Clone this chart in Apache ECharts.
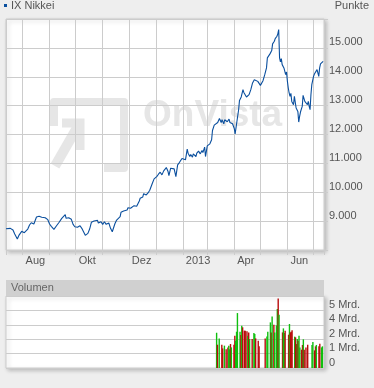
<!DOCTYPE html>
<html>
<head>
<meta charset="utf-8">
<script src="https://cdn.jsdelivr.net/npm/echarts@6.0.0/dist/echarts.min.js"></script>
<style>
  html, body { margin: 0; padding: 0; background: #eeeeee; }
  #chart { width: 374px; height: 388px; }
</style>
</head>
<body>
<div id="chart"></div>
<script>
// ---- Data ----
const nikkeiDates = [
 '2012-07-13','2012-07-18','2012-07-19','2012-07-21','2012-07-23','2012-07-25','2012-07-26','2012-07-28','2012-07-31',
 '2012-08-03','2012-08-04','2012-08-07','2012-08-09','2012-08-11','2012-08-14','2012-08-16','2012-08-17','2012-08-20','2012-08-23','2012-08-25','2012-08-27','2012-08-30',
 '2012-09-01','2012-09-03','2012-09-06','2012-09-09','2012-09-10','2012-09-12','2012-09-15','2012-09-17','2012-09-19','2012-09-20','2012-09-23','2012-09-26','2012-09-28','2012-09-30',
 '2012-10-03','2012-10-06','2012-10-08','2012-10-10','2012-10-12','2012-10-15','2012-10-17','2012-10-19','2012-10-22','2012-10-26','2012-10-27','2012-10-30',
 '2012-11-01','2012-11-03','2012-11-05','2012-11-08','2012-11-10','2012-11-12','2012-11-14','2012-11-15','2012-11-17','2012-11-21','2012-11-22','2012-11-25','2012-11-27','2012-11-29','2012-11-30',
 '2012-12-03','2012-12-05','2012-12-07','2012-12-10','2012-12-11','2012-12-13','2012-12-14','2012-12-17','2012-12-18','2012-12-20','2012-12-21','2012-12-23','2012-12-25','2012-12-26','2012-12-28','2012-12-30',
 '2013-01-02','2013-01-04','2013-01-06','2013-01-08','2013-01-10','2013-01-11','2013-01-13','2013-01-15','2013-01-16','2013-01-18','2013-01-20','2013-01-22','2013-01-24','2013-01-26','2013-01-28','2013-01-31',
 '2013-02-02','2013-02-04','2013-02-06','2013-02-07','2013-02-09','2013-02-10','2013-02-12','2013-02-13','2013-02-16','2013-02-17','2013-02-19','2013-02-21','2013-02-23','2013-02-24','2013-02-26','2013-02-27',
 '2013-03-01','2013-03-02','2013-03-04','2013-03-06','2013-03-07','2013-03-09','2013-03-11','2013-03-13','2013-03-14','2013-03-15','2013-03-17','2013-03-18','2013-03-20','2013-03-21','2013-03-23','2013-03-24','2013-03-26','2013-03-27','2013-03-29','2013-03-30',
 '2013-04-01','2013-04-02','2013-04-04','2013-04-06','2013-04-07','2013-04-09','2013-04-11','2013-04-12','2013-04-14','2013-04-15','2013-04-17','2013-04-18','2013-04-20','2013-04-22','2013-04-24','2013-04-25','2013-04-28','2013-04-30',
 '2013-05-01','2013-05-04','2013-05-06','2013-05-08','2013-05-09','2013-05-11','2013-05-12','2013-05-14','2013-05-15','2013-05-17','2013-05-18','2013-05-20','2013-05-21','2013-05-22','2013-05-23','2013-05-24','2013-05-25','2013-05-26','2013-05-28','2013-05-30','2013-05-31',
 '2013-06-01','2013-06-02','2013-06-03','2013-06-04','2013-06-05','2013-06-06','2013-06-08','2013-06-09','2013-06-11','2013-06-13','2013-06-14','2013-06-15','2013-06-16','2013-06-18','2013-06-19','2013-06-20','2013-06-21','2013-06-23','2013-06-24','2013-06-25','2013-06-26','2013-06-27','2013-06-28','2013-06-29','2013-06-30',
 '2013-07-01','2013-07-02','2013-07-04','2013-07-05','2013-07-06','2013-07-07','2013-07-08','2013-07-09','2013-07-11','2013-07-12'
];
const nikkeiValues = [
 8737,8750,8785,8690,8553,8494,8380,8517,8646,
 8600,8656,8726,8865,8945,8900,8960,9142,9167,9132,9097,9118,9050,
 8900,8820,8716,8840,8785,8960,9097,9118,9222,9097,9118,9063,8889,8806,
 8785,8840,8750,8632,8507,8577,8726,8960,9004,9028,8934,8980,
 8889,8980,8889,8934,8750,8632,8656,8910,9038,9153,9306,9351,9306,9386,9465,
 9444,9490,9535,9514,9559,9698,9792,9837,9952,10000,9906,9976,10070,10139,10313,10462,
 10542,10625,10695,10601,10740,10775,10854,10716,10577,10834,10890,10810,10542,10948,11028,11167,
 11215,11122,11493,11354,11236,11306,11215,11330,11236,11354,11424,11330,11445,11375,11563,11236,
 11608,11632,11677,11816,12139,12326,12347,12417,12372,12556,12417,12511,12372,12511,12580,12441,12535,12417,12465,12372,
 12208,12024,12441,12858,13181,13299,13552,13458,13413,13299,13344,13380,13552,13785,13900,13899,13840,13771,
 13701,13865,14073,14306,14653,14675,14792,14906,15139,15229,15323,15403,15486,15635,14653,14514,14629,14420,14306,14073,14167,
 13840,13611,13438,13320,13424,13146,13031,13320,12917,12800,12431,12625,12778,12972,13354,13320,13146,13125,13031,13146,12972,12858,13379,13726,13785,
 14014,14097,14073,14247,14188,14014,14306,14444,14479,14535
];

const volDates = [
 '2013-03-12','2013-03-13','2013-03-15','2013-03-18','2013-03-19','2013-03-21','2013-03-23','2013-03-25','2013-03-26','2013-03-27','2013-03-28','2013-03-29',
 '2013-04-01','2013-04-02','2013-04-03','2013-04-04','2013-04-05','2013-04-08','2013-04-09','2013-04-10','2013-04-11','2013-04-13','2013-04-14','2013-04-16','2013-04-17','2013-04-18','2013-04-19','2013-04-22','2013-04-24','2013-04-25','2013-04-26','2013-04-29','2013-04-30',
 '2013-05-07','2013-05-09','2013-05-10','2013-05-13','2013-05-14','2013-05-15','2013-05-17','2013-05-18','2013-05-20','2013-05-21','2013-05-22','2013-05-23','2013-05-27','2013-05-28','2013-05-29','2013-05-30',
 '2013-06-03','2013-06-04','2013-06-05','2013-06-06','2013-06-07','2013-06-10','2013-06-11','2013-06-12','2013-06-13','2013-06-14','2013-06-15','2013-06-16','2013-06-18','2013-06-19','2013-06-20','2013-06-21','2013-06-23','2013-06-25','2013-06-30',
 '2013-07-01','2013-07-03','2013-07-04','2013-07-05','2013-07-08','2013-07-09','2013-07-11','2013-07-12'
];
// volume in Mrd. (billions)
const volValues = [
 3.06,2.02,2.57,2.02,1.70,1.94,1.62,1.79,1.94,1.62,2.08,1.79,
 2.02,2.80,2.37,3.15,4.77,3.15,2.86,3.67,3.53,3.24,3.24,3.20,2.80,3.09,2.52,2.52,3.04,2.95,2.57,2.37,1.88,
 2.57,2.74,3.15,3.96,3.09,4.48,3.76,3.09,3.70,5.12,6.04,4.63,3.09,3.44,3.04,3.24,
 2.89,3.82,3.09,3.15,3.27,2.72,2.66,2.08,2.52,2.37,2.80,1.79,1.59,2.00,2.49,1.59,1.79,2.02,2.00,
 2.25,1.53,1.88,2.00,1.88,2.10,1.79,1.88
];
// 1 = rising day (green), 0 = falling day (red)
const volUp = [
 1,0,1,0,0,1,0,0,1,1,0,1,
 0,0,1,1,1,1,0,1,0,0,0,0,1,0,1,0,1,1,0,0,0,
 0,1,1,1,0,1,0,1,1,1,0,1,0,1,1,0,
 0,1,0,0,0,1,0,0,1,0,1,1,0,0,1,0,0,0,1,
 1,0,0,1,0,0,1,1
];

const yTickValues = [9000, 10000, 11000, 12000, 13000, 14000, 15000];
const yTickLabels = ['9.000', '10.000', '11.000', '12.000', '13.000', '14.000', '15.000'];
const volTickLabels = ['0', '1 Mrd.', '2 Mrd.', '4 Mrd.', '5 Mrd.'];
// month index (0 = Jan) -> label shown right of that month's grid line
const monthLabels = { 7: 'Aug', 9: 'Okt', 11: 'Dez', 1: '2013', 3: 'Apr', 5: 'Jun' };

// ---- Chart ----
const FONT = 'Liberation Sans, Arial, sans-serif';
const TXT = '#555555';
const GRID = '#cccccc';
const DAY = 86400000;
const chart = echarts.init(document.getElementById('chart'), null, { renderer: 'canvas' });

const lineData = nikkeiDates.map((d, i) => [d, nikkeiValues[i]]);
const volData = volDates.map((d, i) => ({
  value: [d, volValues[i]],
  itemStyle: { color: volUp[i] ? '#0fbf0f' : '#b80c0c' }
}));

const option = {
  animation: false,
  backgroundColor: '#eeeeee',
  textStyle: { fontFamily: FONT },
  title: {
    text: 'Punkte', right: 5, top: 0, padding: 0,
    textStyle: { fontSize: 11, fontWeight: 'normal', color: TXT, fontFamily: FONT }
  },
  legend: {
    data: ['IX Nikkei'], left: 4, top: 0, padding: 0,
    icon: 'rect', itemWidth: 3, itemHeight: 3,
    textStyle: { fontSize: 11, color: TXT, fontFamily: FONT, padding: [0, 0, 0, -1] }
  },
  grid: [
    { left: 6, right: 50, top: 19, height: 231, show: true, backgroundColor: '#ffffff',
      borderColor: GRID, borderWidth: 1, z: 0,
      shadowColor: 'rgba(0,0,0,0.22)', shadowBlur: 4, shadowOffsetX: 2, shadowOffsetY: 2 },
    { left: 6, right: 50, top: 296, height: 72, show: true, backgroundColor: '#ffffff',
      borderColor: GRID, borderWidth: 1, z: 0,
      shadowColor: 'rgba(0,0,0,0.22)', shadowBlur: 4, shadowOffsetX: 2, shadowOffsetY: 2 }
  ],
  graphic: [
    // OnVista watermark
    { type: 'polyline', z: 1, silent: true,
      shape: { points: [[54, 126], [54, 102], [124, 102], [124, 168], [104, 168]] },
      style: { stroke: '#e6e6e6', lineWidth: 8, fill: null, lineJoin: 'round' } },
    { type: 'polyline', z: 1, silent: true,
      shape: { points: [[62, 123], [80, 123], [80, 150]] },
      style: { stroke: '#e6e6e6', lineWidth: 9, fill: null, lineJoin: 'miter' } },
    { type: 'line', z: 1, silent: true,
      shape: { x1: 55, y1: 166, x2: 78, y2: 126 },
      style: { stroke: '#e6e6e6', lineWidth: 10 } },
    { type: 'text', z: 1, silent: true, left: 143, top: 97,
      style: { text: 'OnVista', fill: '#e6e6e6', font: 'bold 37px ' + FONT } },
    // Volume panel header
    { type: 'rect', z: 1, silent: true,
      shape: { x: 6, y: 280, width: 318, height: 16 },
      style: { fill: '#d0d0d0' } },
    { type: 'text', z: 2, silent: true, left: 11, top: 282,
      style: { text: 'Volumen', fill: '#666666', font: '11px ' + FONT } }
  ],
  xAxis: [
    { type: 'time', gridIndex: 0, z: 2,
      min: '2012-07-13', max: '2013-07-13',
      splitNumber: 12, minInterval: 28 * DAY, maxInterval: 31 * DAY,
      axisLine: { show: false },
      axisTick: { show: true, length: 5, lineStyle: { color: GRID } },
      splitLine: { show: true, lineStyle: { color: GRID, width: 1 } },
      axisLabel: {
        show: true, margin: 5, align: 'left', padding: [0, 0, 0, 3],
        fontSize: 11, color: TXT, fontFamily: FONT,
        hideOverlap: false, showMinLabel: true, showMaxLabel: true,
        formatter: function (val) {
          const dt = new Date(val);
          if (dt.getDate() !== 1) return '';
          const l = monthLabels[dt.getMonth()];
          return l ? l : '';
        }
      }
    },
    { type: 'time', gridIndex: 1, z: 2,
      min: '2012-07-13', max: '2013-07-13',
      axisLine: { show: false }, axisTick: { show: false },
      splitLine: { show: false }, axisLabel: { show: false }
    }
  ],
  yAxis: [
    { type: 'value', gridIndex: 0, position: 'right', z: 2,
      min: 8000, max: 16000, interval: 1000,
      axisLine: { show: false },
      axisTick: { show: true, length: 4, lineStyle: { color: GRID } },
      splitLine: { show: true, lineStyle: { color: GRID, width: 1 } },
      axisLabel: {
        margin: 5, verticalAlign: 'bottom', fontSize: 11, color: TXT, fontFamily: FONT,
        formatter: function (v) {
          const i = yTickValues.indexOf(v);
          return i >= 0 ? yTickLabels[i] : '';
        }
      }
    },
    { type: 'value', gridIndex: 1, position: 'right', z: 2,
      min: 0, max: 6.25, interval: 1.25,
      axisLine: { show: false }, axisTick: { show: false },
      splitLine: { show: true, lineStyle: { color: GRID, width: 1 } },
      axisLabel: {
        margin: 5, verticalAlign: 'bottom', fontSize: 11, color: TXT, fontFamily: FONT,
        formatter: function (v) {
          const i = Math.round(v / 1.25);
          return volTickLabels[i] !== undefined ? volTickLabels[i] : '';
        }
      }
    }
  ],
  series: [
    { name: 'IX Nikkei', type: 'line', xAxisIndex: 0, yAxisIndex: 0, z: 3,
      data: lineData, showSymbol: false, symbol: 'none',
      itemStyle: { color: '#0a4f9e' },
      lineStyle: { color: '#0a4f9e', width: 1.1 } },
    { name: 'Volumen', type: 'bar', xAxisIndex: 1, yAxisIndex: 1, z: 3,
      data: volData, barWidth: 1.4 }
  ]
};
chart.setOption(option);
</script>
</body>
</html>
